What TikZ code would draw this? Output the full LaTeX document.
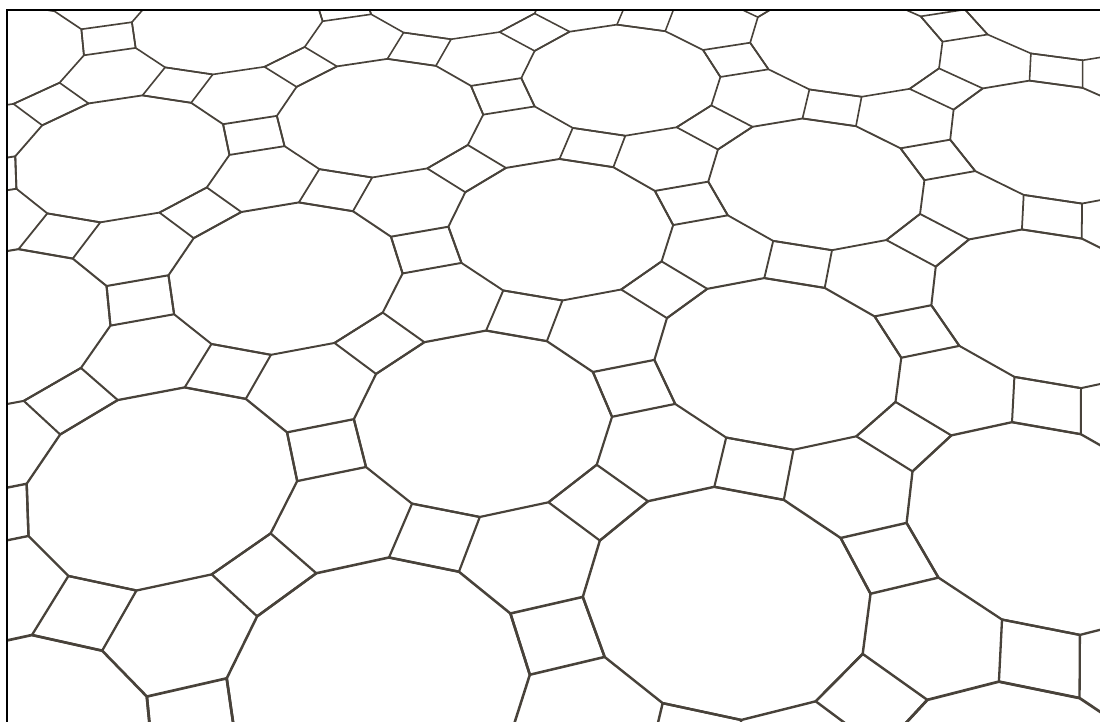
\documentclass[tikz,border=0pt]{standalone}
\definecolor{tileline}{RGB}{72,66,58}
\tikzset{tile/.style={draw=tileline,line join=round,line cap=round}}
\newcommand\tproj[3]{%
  \pgfmathsetmacro\tjj{(#2)/4.09808}%
  \pgfmathsetmacro\tii{(#1)/4.73205-\tjj/2}%
  \pgfmathsetmacro\tuu{(\tii+0.5)/2}%
  \pgfmathsetmacro\tvv{\tjj/1.5}%
  \pgfmathsetmacro\tden{0.07835*\tuu-0.14525*\tvv+1}%
  \pgfmathsetmacro\tpx{(605.14*\tuu+231.82*\tvv+140)/\tden}%
  \pgfmathsetmacro\tpy{(-81.10*\tuu+159.0*\tvv+300)/\tden}%
  \coordinate (#3) at (\tpx,\tpy);%
}
\begin{document}
\begin{tikzpicture}[x=0.5pt,y=-0.5pt]
\fill[white] (0,0) rectangle (1100,722);
\useasboundingbox (0,0) rectangle (1100,722);
\begin{scope}
\clip (7,10) rectangle (1100,722);
\foreach \i in {-4,...,7}{
 \foreach \j in {-5,...,4}{
  \pgfmathsetmacro\cx{4.73205*(\i+\j/2)}
  \pgfmathsetmacro\cy{4.09808*\j}
  \pgfmathsetmacro\cu{(\i+0.5)/2}
  \pgfmathsetmacro\cv{\j/1.5}
  \pgfmathsetmacro\cden{0.07835*\cu-0.14525*\cv+1}
  \pgfmathsetmacro\cpx{(605.14*\cu+231.82*\cv+140)/\cden}
  \pgfmathsetmacro\cpy{(-81.10*\cu+159.0*\cv+300)/\cden}
  \pgfmathtruncatemacro\vis{and(and(\cpx>-350,\cpx<1450),and(\cpy>-300,\cpy<1050))}
  \ifnum\vis=1
   \pgfmathsetmacro\lw{1.0/\cden}
   \foreach \k in {0,...,11}{\tproj{\cx+1.93185*cos(15+30*\k)}{\cy+1.93185*sin(15+30*\k)}{d\k}}
   \draw[tile,line width=\lw pt] (d0)--(d1)--(d2)--(d3)--(d4)--(d5)--(d6)--(d7)--(d8)--(d9)--(d10)--(d11)--cycle;
   \foreach \a in {0,60,120}{
     \foreach \m in {0,1,2,3}{\tproj{\cx+2.36603*cos(\a)+0.70711*cos(\a+45+90*\m)}{\cy+2.36603*sin(\a)+0.70711*sin(\a+45+90*\m)}{s\m}}
     \draw[tile,line width=\lw pt] (s0)--(s1)--(s2)--(s3)--cycle;
   }
  \fi
 }}
\end{scope}
\draw[line width=1pt,black] (6.7,722) -- (6.7,10) -- (1100,10);
\end{tikzpicture}
\end{document}
